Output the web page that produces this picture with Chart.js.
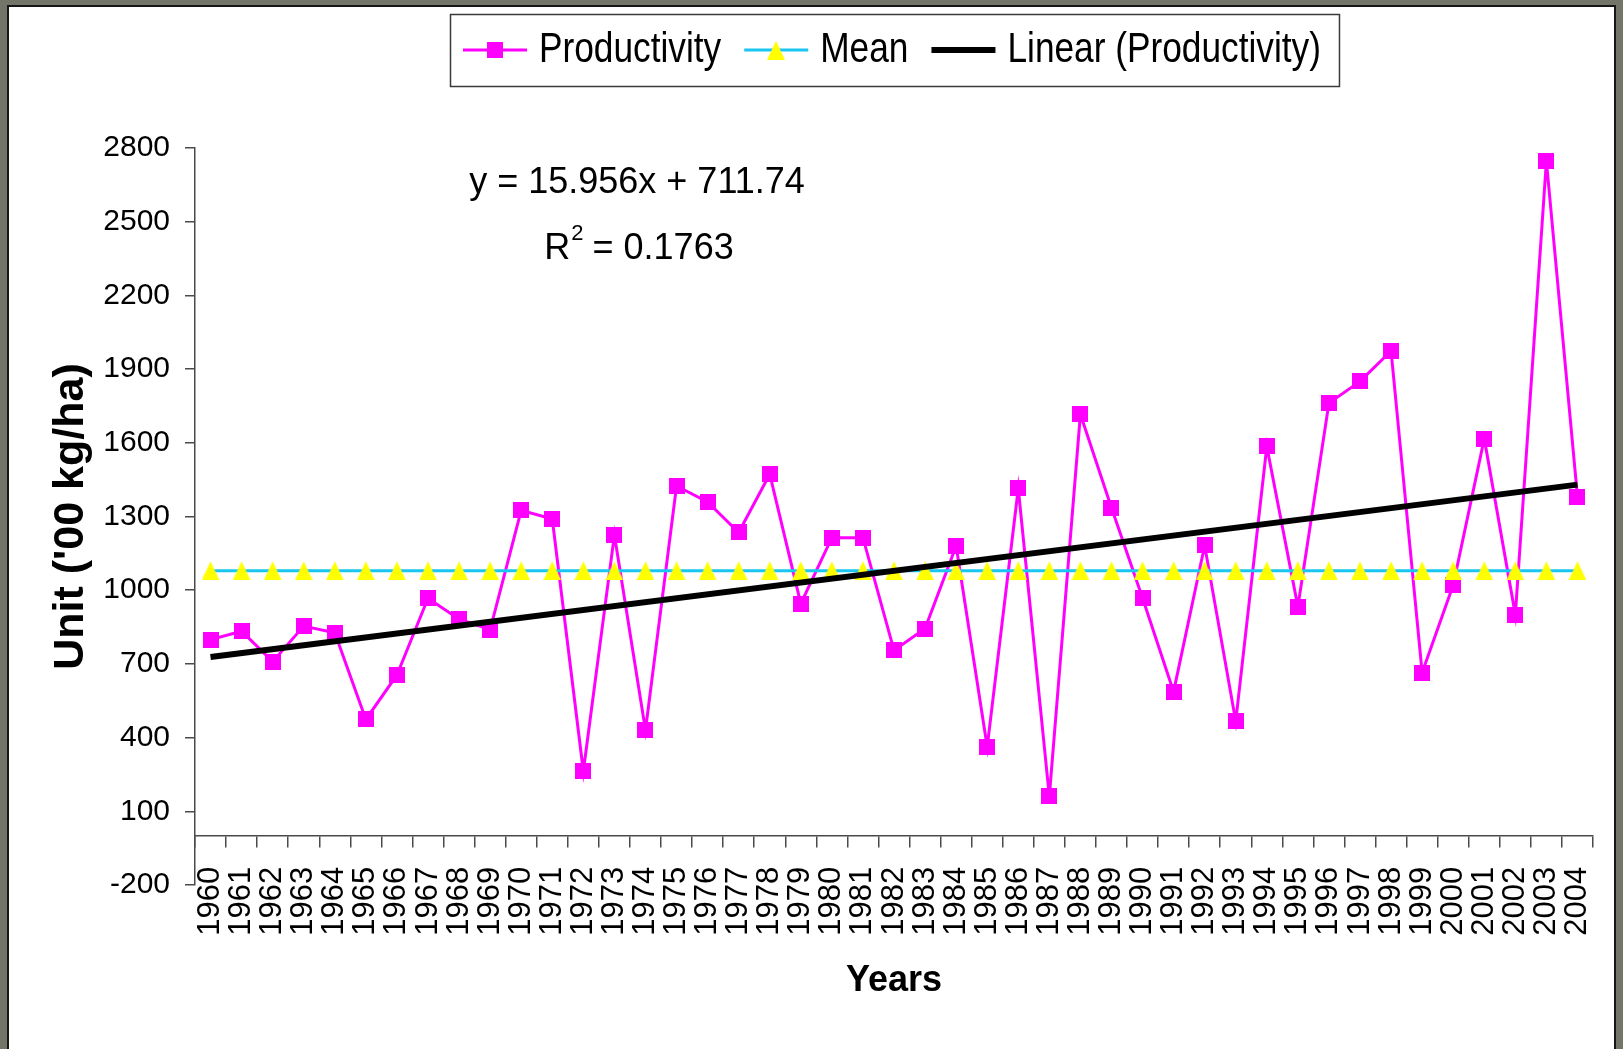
<!DOCTYPE html>
<html>
<head>
<meta charset="utf-8">
<title>Productivity</title>
<script src="https://cdn.jsdelivr.net/npm/chart.js@4.4.0/dist/chart.umd.min.js"></script>
<style>
  html, body { margin: 0; padding: 0; overflow: hidden; background: #737568; }
  #panel {
    position: absolute; left: 7px; top: 5px; width: 1609px; height: 1100px;
    box-sizing: border-box; background: #fff;
    border: 2px solid #161616; border-bottom: none;
  }
  #chart { position: absolute; left: 0; top: 0; }
</style>
</head>
<body>
<div id="panel"><canvas id="chart" width="1605" height="1042"></canvas></div>
<script>
const years = ['1960', '1961', '1962', '1963', '1964', '1965', '1966', '1967', '1968', '1969',
  '1970', '1971', '1972', '1973', '1974', '1975', '1976', '1977', '1978', '1979',
  '1980', '1981', '1982', '1983', '1984', '1985', '1986', '1987', '1988', '1989',
  '1990', '1991', '1992', '1993', '1994', '1995', '1996', '1997', '1998', '1999',
  '2000', '2001', '2002', '2003', '2004'];

const productivity = [799, 833, 709, 854, 827, 474, 655, 967, 882, 840,
  1325, 1290, 263, 1225, 430, 1424, 1359, 1235, 1472, 945,
  1214, 1214, 755, 844, 1180, 362, 1414, 161, 1716, 1336,
  968, 587, 1182, 466, 1585, 933, 1762, 1850, 1974, 664,
  1021, 1617, 900, 2747, 1381];

const meanValues = [1078.7, 1078.7, 1078.7, 1078.7, 1078.7, 1078.7, 1078.7, 1078.7, 1078.7, 1078.7,
  1078.7, 1078.7, 1078.7, 1078.7, 1078.7, 1078.7, 1078.7, 1078.7, 1078.7, 1078.7,
  1078.7, 1078.7, 1078.7, 1078.7, 1078.7, 1078.7, 1078.7, 1078.7, 1078.7, 1078.7,
  1078.7, 1078.7, 1078.7, 1078.7, 1078.7, 1078.7, 1078.7, 1078.7, 1078.7, 1078.7,
  1078.7, 1078.7, 1078.7, 1078.7, 1078.7];

// linear trend, end points only
const trendPoints = [{ x: '1960', y: 727.7 }, { x: '2004', y: 1429.8 }];

const yMin = -200;
const yMax = 2800;
const yStep = 300;

const equationText = 'y = 15.956x + 711.74';
const rSquaredValue = '0.1763';

const sans = "'Liberation Sans', Arial, sans-serif";

function squareMarker(size, color) {
  const c = document.createElement('canvas');
  c.width = size; c.height = size;
  const g = c.getContext('2d');
  g.fillStyle = color;
  g.fillRect(0, 0, size, size);
  return c;
}

function triangleMarker(w, h, color) {
  const c = document.createElement('canvas');
  c.width = w; c.height = h;
  const g = c.getContext('2d');
  g.fillStyle = color;
  g.beginPath();
  g.moveTo(w / 2, 0);
  g.lineTo(w, h);
  g.lineTo(0, h);
  g.closePath();
  g.fill();
  return c;
}

const pinkSquare = squareMarker(16, '#FF00FF');
const yellowTriangle = triangleMarker(18, 19, '#FFFF00');

// legend text in the original is a condensed face, squeeze it a bit
const squeeze = 0.82;

const boxedLegend = {
  id: 'boxedLegend',
  afterDraw(chart) {
    const { ctx, chartArea } = chart;
    ctx.save();
    ctx.font = '43px ' + sans;
    const items = chart.data.datasets.map(ds => ({ ds, w: ctx.measureText(ds.label).width * squeeze }));
    const iconW = 64, gap = 12, between = 23, padL = 13, padR = 18;
    let total = padL + padR + between * (items.length - 1);
    items.forEach(it => { total += iconW + gap + it.w; });
    const left = Math.round((chartArea.left + chartArea.right) / 2 - total / 2);
    const top = 7, h = 72, cy = top + h / 2;

    ctx.strokeStyle = '#3a3a3a';
    ctx.lineWidth = 1.5;
    ctx.strokeRect(left + 0.5, top + 0.5, total, h);

    let x = left + padL;
    items.forEach(it => {
      const ds = it.ds;
      ctx.strokeStyle = ds.borderColor;
      ctx.lineWidth = ds.borderWidth;
      ctx.beginPath();
      ctx.moveTo(x, cy);
      ctx.lineTo(x + iconW, cy);
      ctx.stroke();
      if (ds.pointRadius > 0 && typeof ds.pointStyle === 'object') {
        const img = ds.pointStyle;
        ctx.drawImage(img, Math.round(x + iconW / 2 - img.width / 2), Math.round(cy - img.height / 2));
      }
      ctx.save();
      ctx.translate(x + iconW + gap, cy);
      ctx.scale(squeeze, 1);
      ctx.fillStyle = '#000';
      ctx.textAlign = 'left';
      ctx.textBaseline = 'middle';
      ctx.fillText(ds.label, 0, 0);
      ctx.restore();
      x += iconW + gap + it.w + between;
    });
    ctx.restore();
  }
};

const trendLabel = {
  id: 'trendLabel',
  afterDraw(chart) {
    const { ctx, chartArea } = chart;
    const cx = chartArea.left + 442;
    const y1 = chartArea.top + 35;
    const y2 = chartArea.top + 101;
    ctx.save();
    ctx.fillStyle = '#000';
    ctx.textBaseline = 'middle';
    ctx.font = '36px ' + sans;
    ctx.textAlign = 'center';
    ctx.fillText(equationText, cx, y1);

    const rest = ' = ' + rSquaredValue;
    const wR = ctx.measureText('R').width;
    const wRest = ctx.measureText(rest).width;
    ctx.font = '22px ' + sans;
    const wSup = ctx.measureText('2').width;
    const x = cx - (wR + wSup + wRest) / 2 + 2;
    ctx.textAlign = 'left';
    ctx.font = '36px ' + sans;
    ctx.fillText('R', x, y2);
    ctx.font = '22px ' + sans;
    ctx.fillText('2', x + wR + 1, y2 - 15);
    ctx.font = '36px ' + sans;
    ctx.fillText(rest, x + wR + wSup, y2);
    ctx.restore();
  }
};

const axisColor = '#4a4a4a';

new Chart(document.getElementById('chart'), {
  type: 'line',
  data: {
    labels: years,
    datasets: [
      {
        label: 'Productivity',
        data: productivity,
        borderColor: '#FF00FF',
        backgroundColor: '#FF00FF',
        borderWidth: 3,
        pointStyle: pinkSquare,
        pointRadius: 8,
        tension: 0,
        order: 3
      },
      {
        label: 'Mean',
        data: meanValues,
        borderColor: '#19C6F2',
        backgroundColor: '#FFFF00',
        borderWidth: 3,
        pointStyle: yellowTriangle,
        pointRadius: 9,
        order: 2
      },
      {
        label: 'Linear (Productivity)',
        data: trendPoints,
        borderColor: '#000000',
        borderWidth: 6,
        pointRadius: 0,
        order: 1
      }
    ]
  },
  options: {
    responsive: false,
    animation: false,
    devicePixelRatio: 1,
    layout: { padding: { top: 141, left: 0, right: 21, bottom: 164 } },
    plugins: {
      legend: { display: false },
      tooltip: { enabled: false }
    },
    scales: {
      x: {
        type: 'category',
        position: { y: 0 },
        offset: true,
        grid: { offset: true, drawOnChartArea: false, tickLength: 11, color: axisColor, lineWidth: 1.5 },
        border: { display: true, color: axisColor, width: 1.5 },
        ticks: {
          autoSkip: false, minRotation: 90, maxRotation: 90, padding: 20,
          color: '#000', font: { family: sans, size: 31 }
        },
        title: {
          display: true, text: 'Years', color: '#000',
          font: { family: sans, size: 36, weight: 'bold' },
          padding: { top: 0, bottom: 0 }
        },
        afterFit: scale => {
          scale.height = 167;
          scale.paddingLeft = 0;
          scale.paddingRight = 0;
        }
      },
      y: {
        min: yMin,
        max: yMax,
        grid: { drawOnChartArea: false, tickLength: 10, color: axisColor, lineWidth: 1.5 },
        border: { display: true, color: axisColor, width: 1.5 },
        ticks: {
          stepSize: yStep, padding: 15, color: '#000',
          font: { family: sans, size: 30 },
          callback: value => String(value)
        },
        title: {
          display: true, text: "Unit ('00 kg/ha)", color: '#000',
          font: { family: sans, size: 43, weight: 'bold' },
          padding: { top: 36, bottom: 0 }
        },
        afterFit: scale => { scale.width = 186; }
      }
    }
  },
  plugins: [boxedLegend, trendLabel]
});
</script>
</body>
</html>
